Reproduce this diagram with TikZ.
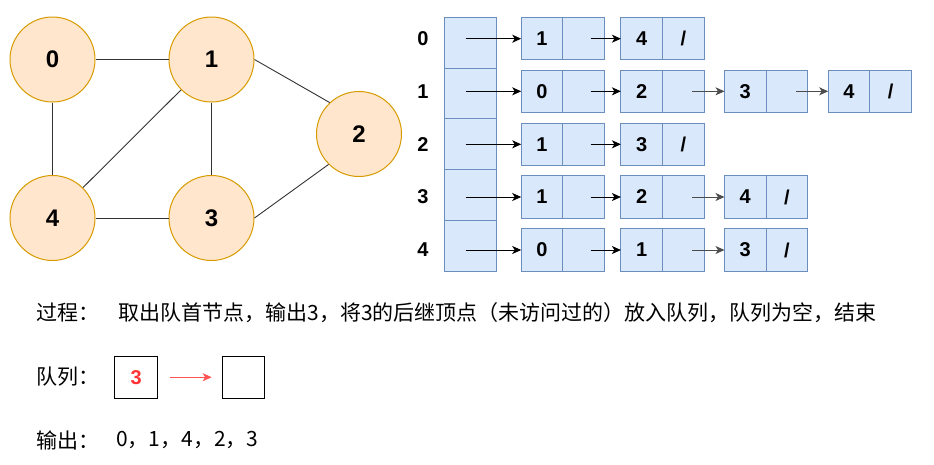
\documentclass[tikz,border=0pt]{standalone}
\usepackage{fontspec}
\setmainfont{Liberation Sans}
\newfontfamily\cjk{Noto Sans CJK SC}
\usetikzlibrary{positioning,arrows.meta}

\definecolor{vfill}{HTML}{FFE6CC}
\definecolor{vline}{HTML}{D79B00}
\definecolor{cfill}{HTML}{DAE8FC}
\definecolor{cline}{HTML}{6C8EBF}
\definecolor{qred}{HTML}{FF3333}

\tikzset{
  vertex/.style={circle, draw=vline, fill=vfill, line width=1pt, minimum size=85pt,
    inner sep=0pt, font=\fontsize{24}{24}\selectfont\bfseries},
  cell/.style={rectangle, draw=cline, fill=cfill, line width=1pt, minimum width=41.6pt,
    minimum height=42.5pt, inner sep=0pt, outer sep=0pt, font=\fontsize{20}{20}\selectfont\bfseries},
  headcell/.style={cell, minimum width=52.4pt, minimum height=50.75pt},
  rowlabel/.style={font=\fontsize{20}{20}\selectfont\bfseries},
  gline/.style={draw=black!80, line width=0.9pt},
  txt/.style={anchor=west, inner sep=0pt, font=\cjk\fontsize{21}{21}\selectfont},
  qbox/.style={rectangle, draw=black, line width=1pt, minimum width=42.7pt,
    minimum height=42.3pt, inner sep=0pt, font=\fontsize{20}{20}\selectfont\bfseries},
}

\begin{document}
\begin{tikzpicture}[x=1pt, y=-1pt, >={Stealth[length=9pt,width=8pt,inset=2.5pt]}]
  \useasboundingbox (0,0) rectangle (934,464);

  % graph
  \node[vertex] (n0) at (52.5,59.5)  {0};
  \node[vertex] (n1) at (211.5,59.5) {1};
  \node[vertex] (n2) at (359,134)    {2};
  \node[vertex] (n3) at (211.5,218)  {3};
  \node[vertex] (n4) at (52.5,218)   {4};

  \path [gline] (n0) edge (n1);
  \path [gline] (n0) edge (n4);
  \path [gline] (n1) edge (n4);
  \path [gline] (n1) edge (n3);
  \path [gline] (n4) edge (n3);
  \path [gline] (n1.east) edge (n2.133);
  \path [gline] (n2.225) edge (n3.east);

  % head array
  \node[headcell] (h0) at (470.5,42.7) {};
  \node[headcell, below=0pt of h0] (h1) {};
  \node[headcell, below=0pt of h1] (h2) {};
  \node[headcell, below=0pt of h2] (h3) {};
  \node[headcell, below=0pt of h3] (h4) {};

  \node[rowlabel] (l0) at (423,38.7)  {0};
  \node[rowlabel] (l1) at (423,91.3)  {1};
  \node[rowlabel] (l2) at (423,144.3) {2};
  \node[rowlabel] (l3) at (423,197)   {3};
  \node[rowlabel] (l4) at (423,250)   {4};

  \coordinate (s0) at (465.7,38.7);
  \coordinate (s1) at (465.7,91.3);
  \coordinate (s2) at (465.7,144.3);
  \coordinate (s3) at (465.7,197);
  \coordinate (s4) at (465.7,250);

  % row 0
  \node[cell] (v01) at (542,38.7)   {1};
  \node[cell, right=0pt of v01] (p01) {};
  \node[cell] (v02) at (641.7,38.7) {4};
  \node[cell, right=0pt of v02] (p02) {/};
  % row 1
  \node[cell] (v11) at (542,91.3)   {0};
  \node[cell, right=0pt of v11] (p11) {};
  \node[cell] (v12) at (641.7,91.3) {2};
  \node[cell, right=0pt of v12] (p12) {};
  \node[cell] (v13) at (745.3,91.3) {3};
  \node[cell, right=0pt of v13] (p13) {};
  \node[cell] (v14) at (849,91.3)   {4};
  \node[cell, right=0pt of v14] (p14) {/};
  % row 2
  \node[cell] (v21) at (542,144.3)   {1};
  \node[cell, right=0pt of v21] (p21) {};
  \node[cell] (v22) at (641.7,144.3) {3};
  \node[cell, right=0pt of v22] (p22) {/};
  % row 3
  \node[cell] (v31) at (542,197)   {1};
  \node[cell, right=0pt of v31] (p31) {};
  \node[cell] (v32) at (641.7,197) {2};
  \node[cell, right=0pt of v32] (p32) {};
  \node[cell] (v33) at (745.3,197) {4};
  \node[cell, right=0pt of v33] (p33) {/};
  % row 4
  \node[cell] (v41) at (542,250)   {0};
  \node[cell, right=0pt of v41] (p41) {};
  \node[cell] (v42) at (641.7,250) {1};
  \node[cell, right=0pt of v42] (p42) {};
  \node[cell] (v43) at (745.3,250) {3};
  \node[cell, right=0pt of v43] (p43) {/};

  \path [->, line width=0.9pt] (s0) edge (v01.west);
  \path [->, line width=0.9pt] (s1) edge (v11.west);
  \path [->, line width=0.9pt] (s2) edge (v21.west);
  \path [->, line width=0.9pt] (s3) edge (v31.west);
  \path [->, line width=0.9pt] (s4) edge (v41.west);

  \path [->, line width=0.9pt] ([xshift=7pt]p01.center) edge (v02.west);
  \path [->, line width=0.9pt] ([xshift=7pt]p11.center) edge (v12.west);
  \path [->, line width=0.9pt] ([xshift=7pt]p21.center) edge (v22.west);
  \path [->, line width=0.9pt] ([xshift=7pt]p31.center) edge (v32.west);
  \path [->, line width=0.9pt] ([xshift=7pt]p41.center) edge (v42.west);

  \path [->, line width=0.9pt, black!70] ([xshift=9pt]p12.center) edge (v13.west);
  \path [->, line width=0.9pt, black!70] ([xshift=9pt]p13.center) edge (v14.west);
  \path [->, line width=0.9pt, black!70] ([xshift=9pt]p32.center) edge (v33.west);
  \path [->, line width=0.9pt, black!70] ([xshift=9pt]p42.center) edge (v43.west);

  % process, queue, output
  \node[txt] (t1) at (36.7,313) {过程：};
  \node[txt] (t2) at (118.3,313) {取出队首节点，输出3，将3的后继顶点（未访问过的）放入队列，队列为空，结束};
  \node[txt] (t3) at (36.7,377) {队列：};
  \node[qbox] (q1) at (136.3,377.2) {\color{qred}3};
  \node[qbox] (q2) at (243.5,377.2) {};
  \path [->, line width=0.9pt, qred!85] ([xshift=12pt]q1.east) edge ([xshift=-10pt]q2.west);
  \node[txt] (t4) at (36.7,440) {输出：};
  \node[txt] (t5) at (116,440) {0，1，4，2，3};
\end{tikzpicture}
\end{document}
